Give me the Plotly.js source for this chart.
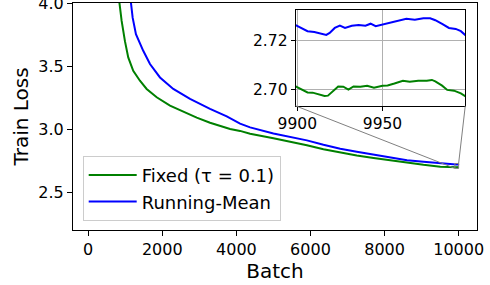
<!DOCTYPE html>
<html>
<head>
<meta charset="utf-8">
<script src="https://cdn.plot.ly/plotly-3.0.1.min.js"></script>
<style>html,body{margin:0;padding:0;background:#fff;}#chart{width:490px;height:285px;}</style>
</head>
<body>
<div id="chart"></div>
<script>
// ---- data ----
const seriesNames = ["Fixed (τ = 0.1)", "Running-Mean"];

// main curves (coarse samples, batch < 9899)
const fixedBatch = [700, 845, 903, 992, 1081, 1216, 1397, 1578, 1849, 2208, 2568, 2749, 2930, 3289, 3470, 3830, 4100, 4370, 5000, 5450, 5903, 6350, 6803, 7250, 7703, 8150, 8605, 9050, 9505];
const fixedLoss  = [4.35, 4.0, 3.86, 3.70, 3.571, 3.466, 3.387, 3.322, 3.256, 3.190, 3.140, 3.115, 3.095, 3.055, 3.040, 3.005, 2.990, 2.968, 2.932, 2.905, 2.876, 2.845, 2.818, 2.796, 2.776, 2.757, 2.740, 2.722, 2.707];

const meanBatch = [1000, 1146, 1200, 1289, 1486, 1668, 1938, 2297, 2749, 3289, 3740, 4100, 4370, 5000, 5450, 5903, 6350, 6803, 7250, 7703, 8150, 8605, 9050, 9505];
const meanLoss  = [4.40, 4.0, 3.886, 3.755, 3.624, 3.519, 3.413, 3.322, 3.243, 3.165, 3.105, 3.048, 3.018, 2.970, 2.942, 2.915, 2.880, 2.849, 2.825, 2.802, 2.779, 2.757, 2.745, 2.732];

// zoomed tail (inset), batch 9899 - 9999
const fixedTailBatch = [9899, 9903, 9906, 9909, 9912, 9916, 9918, 9921, 9924, 9927, 9930, 9933, 9937, 9941, 9945, 9950, 9953, 9957, 9962, 9966, 9971, 9976, 9979, 9981, 9985, 9988, 9992, 9996, 9999];
const fixedTailLoss  = [2.7014, 2.7000, 2.6990, 2.6989, 2.6984, 2.6976, 2.6977, 2.6997, 2.7014, 2.7013, 2.7001, 2.7014, 2.7013, 2.7017, 2.7009, 2.7017, 2.7018, 2.7026, 2.7037, 2.7033, 2.7037, 2.7037, 2.7040, 2.7034, 2.7017, 2.7000, 2.6997, 2.6986, 2.6973];
const meanTailBatch = [9899, 9903, 9906, 9910, 9914, 9917, 9919, 9922, 9925, 9928, 9932, 9936, 9940, 9943, 9946, 9950, 9953, 9957, 9961, 9964, 9969, 9974, 9978, 9981, 9985, 9989, 9993, 9996, 9999];
const meanTailLoss  = [2.7260, 2.7246, 2.7236, 2.7233, 2.7225, 2.7221, 2.7229, 2.7249, 2.7258, 2.7249, 2.7258, 2.7261, 2.7258, 2.7266, 2.7256, 2.7262, 2.7269, 2.7273, 2.7280, 2.7286, 2.7282, 2.7288, 2.7288, 2.7280, 2.7265, 2.7249, 2.7245, 2.7236, 2.7218];

const mainXTicks = [0, 2000, 4000, 6000, 8000, 10000];
const mainYTicks = [2.5, 3.0, 3.5, 4.0];
const insetXTicks = [9900, 9950];
const insetYTicks = [2.70, 2.72];

// ---- styling / layout ----
const GREEN = "#008000", BLUE = "#0000ff";
const FONT = "DejaVu Sans, Liberation Sans, sans-serif";
const mainXRange = [-410, 10495];
const mainYRange = [2.206, 4.002];
const insetXRange = [9899, 9998.6];
const insetYRange = [2.6936, 2.732];
const insetDomX = [0.551, 0.971];
const insetDomY = [0.547, 0.968];

const traces = [
  {x: fixedBatch.concat(fixedTailBatch), y: fixedLoss.concat(fixedTailLoss), name: seriesNames[0],
   mode: "lines", line: {color: GREEN, width: 2}, xaxis: "x", yaxis: "y"},
  {x: meanBatch.concat(meanTailBatch), y: meanLoss.concat(meanTailLoss), name: seriesNames[1],
   mode: "lines", line: {color: BLUE, width: 2}, xaxis: "x", yaxis: "y"},
  {x: fixedTailBatch, y: fixedTailLoss, mode: "lines", line: {color: GREEN, width: 2},
   xaxis: "x2", yaxis: "y2", showlegend: false},
  {x: meanTailBatch, y: meanTailLoss, mode: "lines", line: {color: BLUE, width: 2},
   xaxis: "x2", yaxis: "y2", showlegend: false}
];

function px2x(p) { return mainXRange[0] + p * (mainXRange[1] - mainXRange[0]); }
function py2y(p) { return mainYRange[0] + p * (mainYRange[1] - mainYRange[0]); }

const shapes = [
  {type: "rect", xref: "x", yref: "y", x0: insetXRange[0], x1: insetXRange[1], y0: insetYRange[0], y1: insetYRange[1],
   line: {color: "#808080", width: 1}},
  {type: "line", xref: "x", yref: "y", x0: px2x(insetDomX[0]), y0: py2y(insetDomY[0]), x1: insetXRange[0], y1: insetYRange[0],
   line: {color: "#808080", width: 1}},
  {type: "line", xref: "x", yref: "y", x0: px2x(insetDomX[1]), y0: py2y(insetDomY[0]), x1: insetXRange[1], y1: insetYRange[1],
   line: {color: "#808080", width: 1}}
];

const axisCommon = {showline: true, linecolor: "#000", linewidth: 1, mirror: true, ticks: "outside",
  tickcolor: "#000", tickwidth: 1, zeroline: false, ticklabeloverflow: "allow"};

const layout = {
  width: 490, height: 285,
  margin: {l: 73, r: 13, t: 3, b: 55},
  paper_bgcolor: "#fff", plot_bgcolor: "#fff",
  font: {family: FONT, color: "#000", size: 16},
  showlegend: true,
  legend: {x: 0.024, y: 0.04, xanchor: "left", yanchor: "bottom", bgcolor: "rgba(255,255,255,0.8)",
    bordercolor: "#cccccc", borderwidth: 1, itemwidth: 48, font: {family: FONT, size: 18, color: "#000"}},
  xaxis: Object.assign({}, axisCommon, {range: mainXRange, tickvals: mainXTicks, ticktext: mainXTicks.map(String),
    ticklen: 5, showgrid: false, domain: [0, 1], anchor: "y",
    title: {text: "Batch", font: {family: FONT, size: 20}, standoff: 2}}),
  yaxis: Object.assign({}, axisCommon, {range: mainYRange, tickvals: mainYTicks, ticktext: mainYTicks.map(v => v.toFixed(1)),
    ticklen: 5, showgrid: false, domain: [0, 1], anchor: "x",
    title: {text: "Train Loss", font: {family: FONT, size: 20}, standoff: 4}}),
  xaxis2: Object.assign({}, axisCommon, {range: insetXRange, tickvals: insetXTicks, ticktext: insetXTicks.map(String),
    ticklen: 4, showgrid: true, gridcolor: "#b0b0b0", gridwidth: 1, domain: insetDomX, anchor: "y2",
    tickfont: {size: 15.5}}),
  yaxis2: Object.assign({}, axisCommon, {range: insetYRange, tickvals: insetYTicks, ticktext: insetYTicks.map(v => v.toFixed(2)),
    ticklen: 4, showgrid: true, gridcolor: "#b0b0b0", gridwidth: 1, domain: insetDomY, anchor: "x2",
    tickfont: {size: 15.5}}),
  shapes: shapes
};

Plotly.newPlot("chart", traces, layout, {staticPlot: true, displayModeBar: false});
</script>
</body>
</html>
